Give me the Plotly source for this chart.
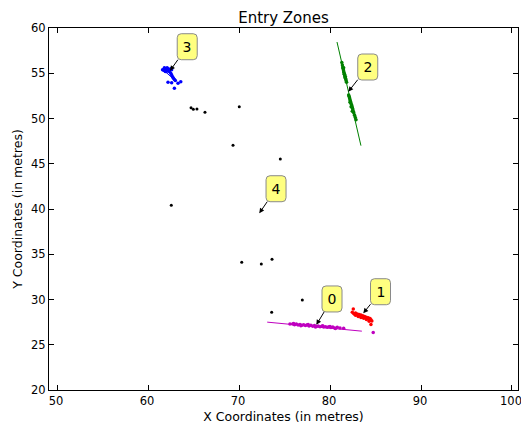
import plotly.graph_objects as go

# ---- data ----
zone0_x = [75.6, 75.9, 76.1, 76.3, 76.5, 76.7, 76.9, 77.1, 77.3, 77.5, 77.7, 77.9, 78.1, 78.3, 78.5,
           78.7, 78.9, 79.1, 79.3, 79.5, 79.7, 79.9, 80.1, 80.3, 80.5, 80.8, 81.1, 81.5, 76.0, 76.8,
           77.6, 78.4, 79.2, 80.0, 80.6, 84.75]
zone0_y = [27.30, 27.28, 27.22, 27.30, 27.18, 27.25, 27.15, 27.22, 27.12, 27.20, 27.08, 27.16, 27.05,
           27.12, 27.02, 27.08, 26.98, 27.05, 26.96, 27.00, 26.92, 26.98, 26.90, 26.95, 26.86, 26.92,
           26.85, 26.82, 27.35, 27.10, 27.25, 26.95, 27.10, 27.02, 26.80, 26.35]
zone0_line_x = [73.1, 83.5]
zone0_line_y = [27.50, 26.50]

zone1_x = [82.45, 82.56, 82.6, 82.7, 82.8, 82.9, 83.0, 83.1, 83.2, 83.3, 83.4, 83.5, 83.6, 83.7,
           83.8, 83.9, 84.0, 84.1, 84.2, 84.3, 84.4, 84.5, 84.6, 82.8, 83.1, 83.4, 83.7, 84.0, 84.3, 84.5]
zone1_y = [28.60, 28.95, 28.45, 28.40, 28.50, 28.32, 28.40, 28.25, 28.35, 28.20, 28.28, 28.10, 28.20,
           28.05, 28.12, 27.98, 28.05, 27.90, 27.98, 27.82, 27.90, 27.75, 27.62, 28.25, 28.12, 28.02,
           27.92, 27.80, 27.60, 27.25]
zone1_line_x = [82.5, 84.6]
zone1_line_y = [28.55, 27.55]

zone2_x = [81.30, 81.36, 81.40, 81.43, 81.47, 81.50, 81.52, 81.56, 81.58, 81.62, 81.66, 81.70, 81.74,
           81.78, 81.82, 81.50, 81.60, 81.70, 82.05, 82.10, 82.14, 82.18, 82.22, 82.26, 82.30, 82.35,
           82.40, 82.44, 82.48, 82.52, 82.58, 82.62, 82.70, 82.78, 82.86, 82.20, 82.32, 82.45]
zone2_y = [56.20, 55.90, 55.70, 55.55, 55.40, 55.25, 55.10, 54.95, 54.85, 54.70, 54.55, 54.45, 54.30,
           54.15, 54.00, 55.60, 54.90, 54.60, 52.60, 52.45, 52.30, 52.15, 52.00, 51.85, 51.70, 51.55,
           51.40, 51.25, 51.10, 50.95, 50.75, 50.60, 50.35, 50.10, 49.85, 51.80, 51.30, 50.80]
zone2_line_x = [80.77, 83.40]
zone2_line_y = [58.45, 47.00]

zone3_x = [61.6, 61.7, 61.8, 61.9, 62.0, 62.1, 62.2, 62.3, 62.4, 61.9, 62.1, 62.5, 62.0, 62.3,
           62.6, 61.8, 62.5, 62.6, 62.7, 62.8, 62.9, 62.2, 62.6, 63.0, 63.3, 62.9, 63.6]
zone3_y = [55.40, 55.35, 55.30, 55.50, 55.40, 55.30, 55.50, 55.40, 55.30, 55.20, 55.60, 55.50, 55.20,
           55.20, 55.40, 55.60, 55.00, 54.80, 54.60, 54.45, 54.30, 54.00, 53.95, 54.20, 53.90, 53.35, 54.05]
zone3_line_x = [61.6, 63.1]
zone3_line_y = [55.45, 54.10]

other_x = [64.73, 64.98, 65.38, 66.26, 70.03, 69.34, 74.54, 62.56, 70.30, 72.45, 73.63, 76.96, 73.59]
other_y = [51.19, 51.02, 51.05, 50.68, 51.30, 47.04, 45.52, 40.41, 34.11, 33.92, 34.44, 29.94, 28.59]

labels = ["0", "1", "2", "3", "4"]
label_tip_x = [78.50, 83.66, 82.01, 62.42, 72.23]
label_tip_y = [27.20, 28.48, 52.96, 55.28, 39.52]
label_box_x = [80.22, 85.55, 84.15, 64.31, 74.07]
label_box_y = [30.06, 30.86, 55.69, 57.93, 42.24]

x_ticks = [50, 60, 70, 80, 90, 100]
y_ticks = [20, 25, 30, 35, 40, 45, 50, 55, 60]

# ---- figure ----
fig = go.Figure()

zones = [
    (zone0_x, zone0_y, zone0_line_x, zone0_line_y, "#bf00bf"),
    (zone1_x, zone1_y, zone1_line_x, zone1_line_y, "#ff0000"),
    (zone2_x, zone2_y, zone2_line_x, zone2_line_y, "#008000"),
    (zone3_x, zone3_y, zone3_line_x, zone3_line_y, "#0000ff"),
]
for zx, zy, lx, ly, col in zones:
    fig.add_trace(go.Scatter(x=lx, y=ly, mode="lines", line=dict(color=col, width=1),
                             hoverinfo="skip", showlegend=False))
    fig.add_trace(go.Scatter(x=zx, y=zy, mode="markers",
                             marker=dict(color=col, size=3.5, line=dict(width=0)),
                             showlegend=False))

fig.add_trace(go.Scatter(x=other_x, y=other_y, mode="markers",
                         marker=dict(color="#000000", size=3, line=dict(width=0)),
                         showlegend=False))

# rounded label boxes (pixel-sized, anchored at the box centres)
hw, hh, r = 10, 13, 4
box_path = (f"M {-hw + r},{-hh} L {hw - r},{-hh} Q {hw},{-hh} {hw},{-hh + r} "
            f"L {hw},{hh - r} Q {hw},{hh} {hw - r},{hh} L {-hw + r},{hh} "
            f"Q {-hw},{hh} {-hw},{hh - r} L {-hw},{-hh + r} Q {-hw},{-hh} {-hw + r},{-hh} Z")

for t, tx, ty, bx, by in zip(labels, label_tip_x, label_tip_y, label_box_x, label_box_y):
    fig.add_shape(type="path", path=box_path, xref="x", yref="y",
                  xsizemode="pixel", ysizemode="pixel", xanchor=bx, yanchor=by,
                  fillcolor="#ffff80", line=dict(color="#8a8a8a", width=1), layer="above")
    fig.add_annotation(x=tx, y=ty, ax=bx, ay=by, xref="x", yref="y", axref="x", ayref="y",
                       text=t, showarrow=True, arrowhead=2, arrowsize=1, arrowwidth=1,
                       arrowcolor="#000000", width=20, height=26,
                       font=dict(family="DejaVu Sans", size=14, color="#000000"),
                       bgcolor="rgba(0,0,0,0)", bordercolor="rgba(0,0,0,0)",
                       borderwidth=0, borderpad=0)

axis_common = dict(showline=True, linecolor="#000000", linewidth=1, mirror="allticks",
                   ticks="inside", ticklen=5, tickwidth=1, tickcolor="#000000",
                   showgrid=False, zeroline=False, ticklabeloverflow="allow", automargin=False,
                   tickfont=dict(family="DejaVu Sans", size=11.5, color="#000000"))

fig.update_xaxes(range=[49.12, 100.66], tickvals=x_ticks, ticktext=[str(v) for v in x_ticks],
                 ticklabelshift=-1,
                 title=dict(text="X Coordinates (in metres)", standoff=5,
                            font=dict(family="DejaVu Sans", size=12.5, color="#000000")),
                 **axis_common)
fig.update_yaxes(range=[20, 60], tickvals=y_ticks, ticktext=[str(v) for v in y_ticks],
                 title=dict(text="Y Coordinates (in metres)", standoff=5,
                            font=dict(family="DejaVu Sans", size=12.5, color="#000000")),
                 **axis_common)

fig.update_layout(
    width=521, height=428,
    margin=dict(l=49, r=3, t=28, b=38),
    paper_bgcolor="#ffffff", plot_bgcolor="#ffffff",
    title=dict(text="Entry Zones", x=(49 + 518) / 2 / 521, xanchor="center",
               y=1 - 18 / 428, yanchor="middle", yref="container",
               font=dict(family="DejaVu Sans", size=15, color="#000000")),
    showlegend=False,
)

fig.write_html("out.html")
